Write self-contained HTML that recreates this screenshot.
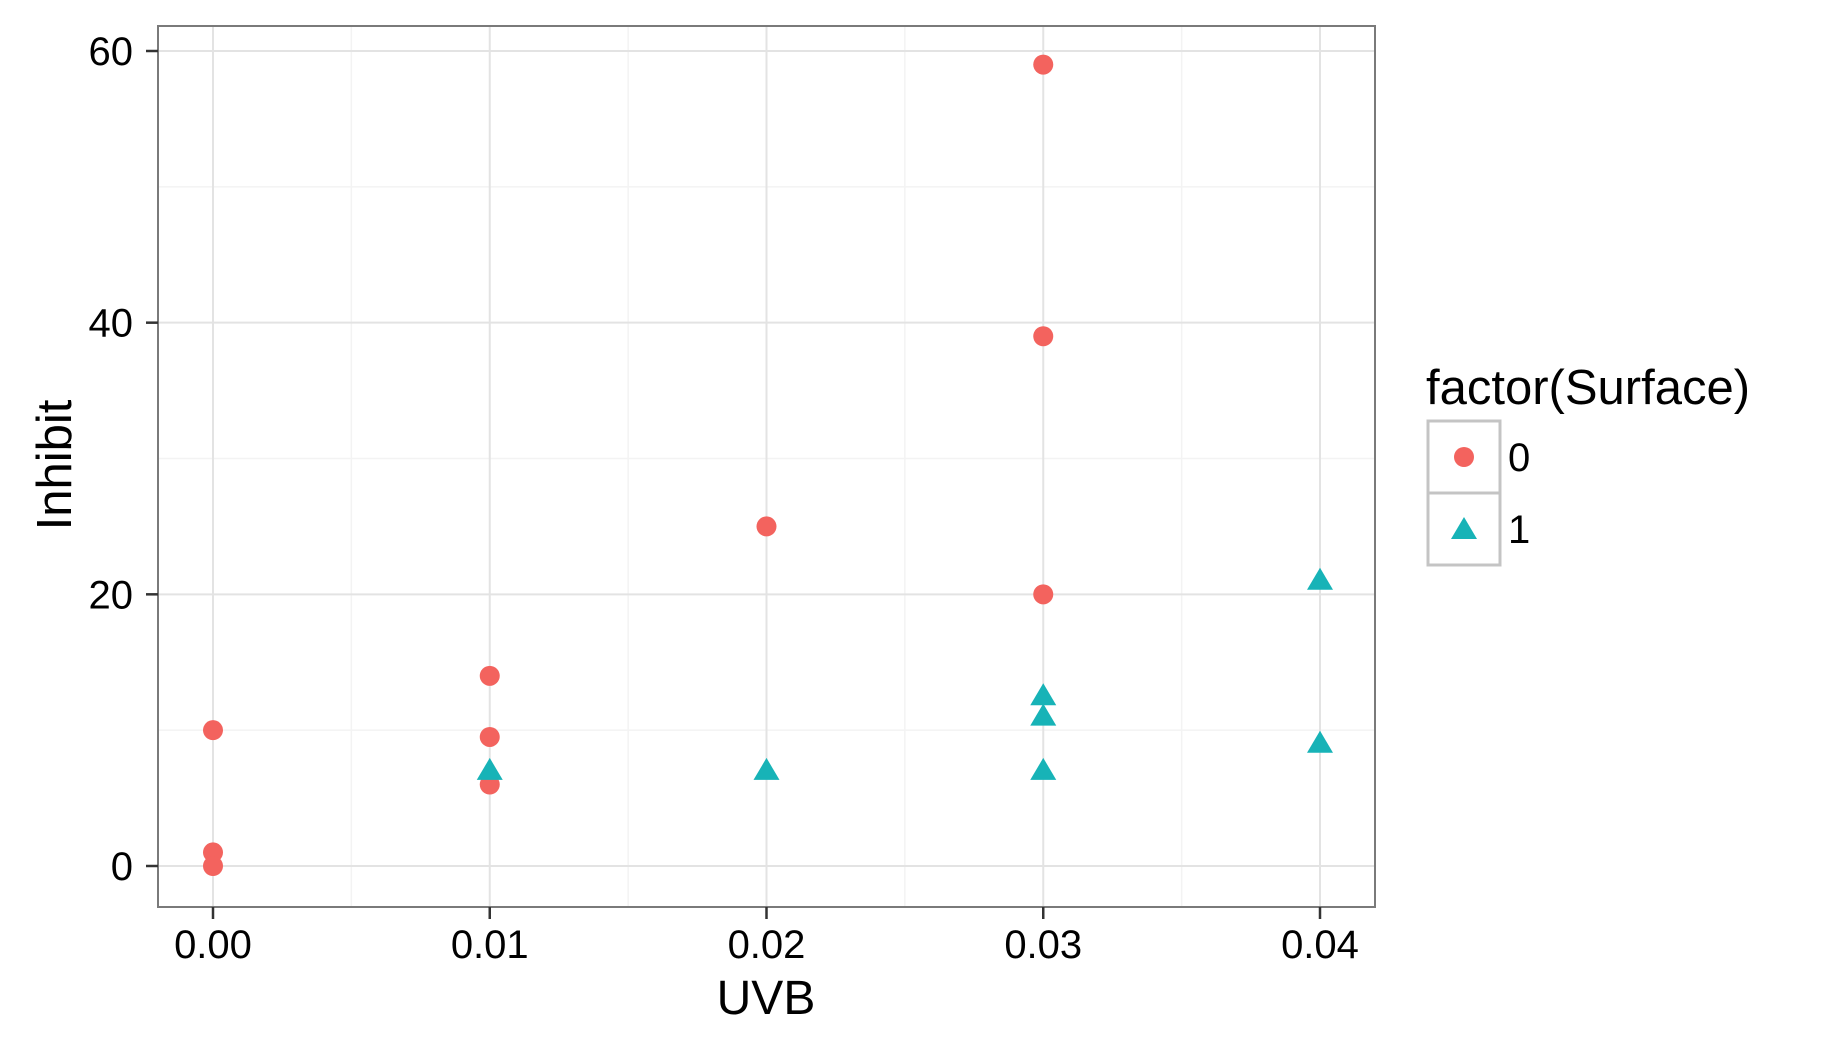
<!DOCTYPE html>
<html><head><meta charset="utf-8"><style>
html,body{margin:0;padding:0;background:#fff;}
svg{display:block;font-family:"Liberation Sans",Arial,sans-serif;}
</style></head><body>
<svg id="chart" width="1837" height="1050" viewBox="0 0 1837 1050" xmlns="http://www.w3.org/2000/svg">
<g id="grid"></g>
<g id="points"></g>
<rect x="158" y="26" width="1217" height="881" fill="none" stroke="#7a7a7a" stroke-width="2"/>
<g id="axes"></g>
<text x="766" y="1014" font-size="48" text-anchor="middle">UVB</text>
<text x="0" y="0" font-size="49" text-anchor="middle" transform="translate(71,465) rotate(-90)">Inhibit</text>
<g>
<text x="1426" y="404" font-size="49">factor(Surface)</text>
<rect x="1428" y="421" width="72" height="72" fill="#fff" stroke="#c4c4c4" stroke-width="3"/>
<rect x="1428" y="493" width="72" height="72" fill="#fff" stroke="#c4c4c4" stroke-width="3"/>
<circle cx="1464" cy="457" r="10" fill="#F3635E"/>
<polygon points="1464,517 1477,539 1451,539" fill="#17B3B7"/>
<text x="1508" y="471" font-size="40">0</text>
<text x="1508" y="543" font-size="40">1</text>
</g>
</svg>
<script>
const xTicks = [0, 0.01, 0.02, 0.03, 0.04];
const xTickLabels = ["0.00", "0.01", "0.02", "0.03", "0.04"];
const yTicks = [0, 20, 40, 60];
const yTickLabels = ["0", "20", "40", "60"];
const xMinor = [0.005, 0.015, 0.025, 0.035];
const yMinor = [10, 30, 50];
const s0x = [0, 0, 0, 0.01, 0.01, 0.01, 0.02, 0.03, 0.03, 0.03];
const s0y = [10, 1, 0, 14, 9.5, 6, 25, 59, 39, 20];
const s1x = [0.01, 0.02, 0.03, 0.03, 0.03, 0.04, 0.04];
const s1y = [7, 7, 12.5, 11, 7, 21, 9];

const NS = "http://www.w3.org/2000/svg";
const L = 158, R = 1375, T = 26, B = 907;
function xs(v){ return 213 + (v - 0) * (1320 - 213) / 0.04; }
function ys(v){ return 866 - v * (866 - 51) / 60; }
function mk(tag, attrs, parent){
  const e = document.createElementNS(NS, tag);
  for (const k in attrs) e.setAttribute(k, attrs[k]);
  parent.appendChild(e); return e;
}
const grid = document.getElementById('grid');
const axes = document.getElementById('axes');
const pts = document.getElementById('points');
mk('rect', {x:L, y:T, width:R-L, height:B-T, fill:'#fff'}, grid);
xMinor.forEach(v => { const e = mk('line', {x1:xs(v), x2:xs(v), y1:T, y2:B, stroke:'#f3f3f3', 'stroke-width':1.5}, grid);
  
   });
yMinor.forEach(v => { const e = mk('line', {x1:L, x2:R, y1:ys(v), y2:ys(v), stroke:'#f3f3f3', 'stroke-width':1.5}, grid);
  
   });
xTicks.forEach((v, i) => {
  const g = mk('line', {x1:xs(v), x2:xs(v), y1:T, y2:B, stroke:'#e3e3e3', 'stroke-width':2}, grid);
  
  
  const t = mk('line', {x1:xs(v), x2:xs(v), y1:B, y2:B+12, stroke:'#333', 'stroke-width':2.5}, axes);
  
  
  const l = mk('text', {x:xs(v), y:958, 'font-size':40, 'text-anchor':'middle', fill:'#000'}, axes);
  l.textContent = xTickLabels[i];
  
  
});
yTicks.forEach((v, i) => {
  const g = mk('line', {x1:L, x2:R, y1:ys(v), y2:ys(v), stroke:'#e3e3e3', 'stroke-width':2}, grid);
  
  
  const t = mk('line', {x1:L-12, x2:L, y1:ys(v), y2:ys(v), stroke:'#333', 'stroke-width':2.5}, axes);
  
  
  const l = mk('text', {x:L-25, y:ys(v)+14, 'font-size':40, 'text-anchor':'end', fill:'#000'}, axes);
  l.textContent = yTickLabels[i];
  
  
});
s0x.forEach((v, i) => {
  const c = mk('circle', {cx:xs(v), cy:ys(s0y[i]), r:10, fill:'#F3635E'}, pts);
  
  
});
s1x.forEach((v, i) => {
  const cx = xs(v), cy = ys(s1y[i]);
  const p = mk('polygon', {points:`${cx},${cy-13} ${cx+13},${cy+9} ${cx-13},${cy+9}`, fill:'#17B3B7'}, pts);
  
  
});
</script>
</body></html>
